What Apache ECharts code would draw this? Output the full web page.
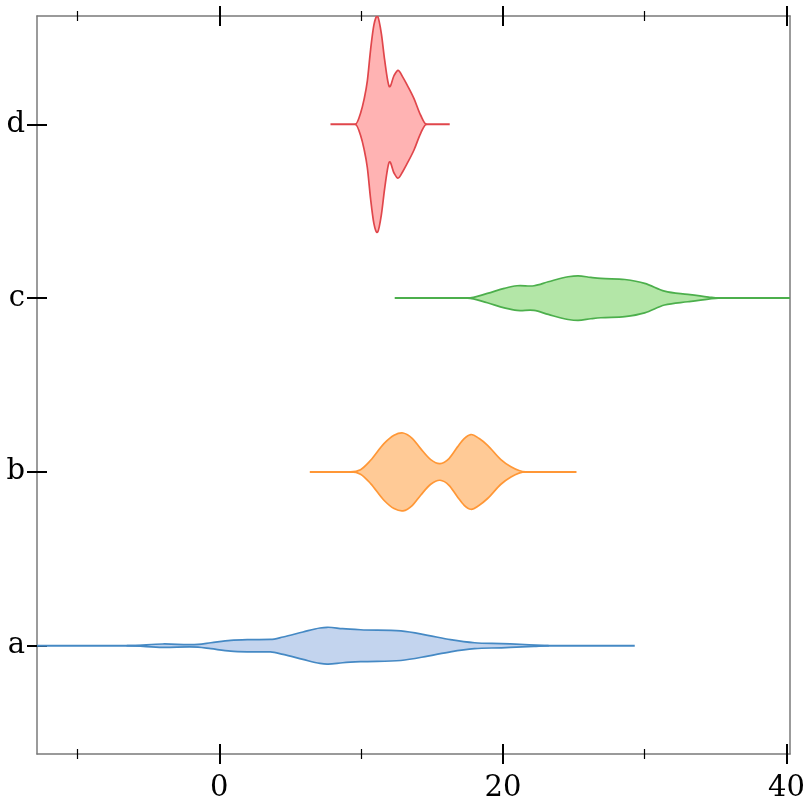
<!DOCTYPE html>
<html><head><meta charset="utf-8">
<script src="https://cdn.jsdelivr.net/npm/echarts@6/dist/echarts.min.js"></script>
<style>html,body{margin:0;padding:0;background:#fff}#c{width:812px;height:812px}</style>
</head><body><div id="c"></div>
<script>
// ---- data ----
const categories = ['a', 'b', 'c', 'd'];
const xMajorTicks = [0, 20, 40];
const xMinorTicks = [-10, 10, 30];
const yTickValues = [0, 1, 2, 3];

// violin outlines: x positions and half widths (in category units)
const aX = [-6.5, -4.0, -1.5, -0.6, 0.8, 2.0, 3.6, 4.5, 5.9, 7.1, 7.6, 8.7, 9.96, 12.8, 14.7, 16.3, 18.0, 19.9, 22.2, 23.2];
const aW = [0, 0.01, 0.008, 0.017, 0.031, 0.035, 0.036, 0.05, 0.079, 0.102, 0.106, 0.098, 0.092, 0.085, 0.06, 0.035, 0.017, 0.012, 0.004, 0];
const aLine = [-14, 29.3];

const bX = [9.26, 9.96, 10.67, 11.61, 12.32, 12.96, 13.62, 14.2, 14.91, 15.57, 16.2, 16.8, 17.27, 17.74, 18.33, 18.92, 19.86, 20.57, 21.6];
const bW = [0, 0.013, 0.067, 0.163, 0.211, 0.224, 0.192, 0.134, 0.071, 0.048, 0.077, 0.144, 0.192, 0.215, 0.192, 0.153, 0.071, 0.029, 0];
const bLine = [6.38, 25.19];

const cX = [17.5, 18.9, 20.1, 21.0, 22.2, 23.2, 24.6, 25.3, 26.2, 26.9, 28.6, 30.0, 31.4, 33.05, 34.5, 35.2];
const cW = [0, 0.027, 0.056, 0.071, 0.071, 0.094, 0.123, 0.128, 0.119, 0.113, 0.107, 0.085, 0.04, 0.021, 0.006, 0];
const cLine = [12.37, 41];

const dX = [9.6, 9.96, 10.2, 10.44, 10.67, 10.9, 11.17, 11.43, 11.66, 11.97, 12.32, 12.6, 12.95, 13.26, 13.73, 14.2, 14.6];
const dW = [0, 0.063, 0.14, 0.25, 0.43, 0.57, 0.62, 0.52, 0.37, 0.22, 0.28, 0.31, 0.27, 0.224, 0.148, 0.052, 0];
const dLine = [7.84, 16.25];

const xRange = [-12.86, 40.25];
const yRange = [-0.623, 3.623];

// ---- styling ----
const violins = [
  { x: aX, w: aW, line: aLine, stroke: '#4589c4', fill: '#c3d4ee' },
  { x: bX, w: bW, line: bLine, stroke: '#ff9736', fill: '#ffca96' },
  { x: cX, w: cW, line: cLine, stroke: '#4caf4c', fill: '#b3e6a7' },
  { x: dX, w: dW, line: dLine, stroke: '#e0464b', fill: '#ffb3b3' }
];
const FONT = 'DejaVu Serif';
const AXIS_GRAY = '#7a7a7a';

// smooth cubic segments through points (x increasing), flat tangent at both ends
function smoothSegments(pts) {
  const n = pts.length;
  const dx = [], s = [];
  for (let i = 0; i < n - 1; i++) {
    dx[i] = pts[i + 1][0] - pts[i][0];
    s[i] = (pts[i + 1][1] - pts[i][1]) / dx[i];
  }
  const m = new Array(n);
  m[0] = 0; m[n - 1] = 0;
  for (let i = 1; i < n - 1; i++) {
    m[i] = (dx[i] * s[i - 1] + dx[i - 1] * s[i]) / (dx[i - 1] + dx[i]);
    // limit to avoid big overshoot
    if (s[i - 1] * s[i] > 0) {
      const lim = 3 * Math.min(Math.abs(s[i - 1]), Math.abs(s[i]));
      if (Math.abs(m[i]) > lim) m[i] = Math.sign(m[i]) * lim;
    }
  }
  const segs = [];
  for (let i = 0; i < n - 1; i++) {
    const h = dx[i] / 3;
    segs.push([
      [pts[i][0] + h, pts[i][1] + m[i] * h],
      [pts[i + 1][0] - h, pts[i + 1][1] - m[i + 1] * h],
      pts[i + 1]
    ]);
  }
  return segs;
}

function makeRender(v, cat) {
  return function (params, api) {
    const cs = params.coordSys;
    const c0 = api.coord([v.line[0], cat]);
    const c1 = api.coord([v.line[1], cat]);
    const lx0 = Math.max(c0[0], cs.x), lx1 = Math.min(c1[0], cs.x + cs.width);
    const yc = c0[1];
    const top = v.x.map((xv, i) => api.coord([xv, cat + v.w[i]]));
    const segs = smoothSegments(top);
    const clampTop = p => [p[0], Math.min(p[1], yc)];
    const mir = p => [p[0], 2 * yc - Math.min(p[1], yc)];
    const f = p => p[0].toFixed(2) + ' ' + p[1].toFixed(2);
    let d = 'M' + f(top[0]);
    segs.forEach(sg => { d += ' C' + f(clampTop(sg[0])) + ' ' + f(clampTop(sg[1])) + ' ' + f(sg[2]); });
    for (let i = segs.length - 1; i >= 0; i--) {
      const start = i === 0 ? top[0] : segs[i - 1][2];
      d += ' C' + f(mir(segs[i][1])) + ' ' + f(mir(segs[i][0])) + ' ' + f(mir(start));
    }
    d += ' Z';
    return {
      type: 'group',
      children: [
        { type: 'line', shape: { x1: lx0, y1: yc, x2: lx1, y2: yc },
          style: { stroke: v.stroke, lineWidth: 2 } },
        { type: 'path', shape: { pathData: d },
          style: { fill: v.fill, stroke: v.stroke, lineWidth: 1.7, lineJoin: 'round' } }
      ]
    };
  };
}

function xAx(position, ticks, inside, len, width, opts) {
  return Object.assign({
    type: 'value', position, min: xRange[0], max: xRange[1],
    splitLine: { show: false },
    axisLine: { show: false, onZero: false },
    axisTick: { show: true, customValues: ticks, inside, length: len, lineStyle: { color: '#000', width } },
    axisLabel: { show: false }
  }, opts || {});
}
function yAx(position, ticks, inside, len, width, opts) {
  return Object.assign({
    type: 'value', position, min: yRange[0], max: yRange[1],
    splitLine: { show: false },
    axisLine: { show: false, onZero: false },
    axisTick: { show: ticks.length > 0, customValues: ticks, inside, length: len, lineStyle: { color: '#000', width } },
    axisLabel: { show: false }
  }, opts || {});
}
const lineOn = { show: true, onZero: false, lineStyle: { color: AXIS_GRAY, width: 1.5 } };

const option = {
  animation: false,
  backgroundColor: '#fff',
  grid: { left: 37, right: 22, top: 16, bottom: 58, containLabel: false },
  xAxis: [
    xAx('bottom', xMajorTicks, false, 10, 2, {
      axisLine: lineOn,
      axisLabel: { show: true, customValues: xMajorTicks, margin: 20, fontFamily: FONT, fontSize: 29, color: '#000' }
    }),
    xAx('bottom', xMajorTicks, true, 10, 2),
    xAx('bottom', xMinorTicks, false, 5, 1.2),
    xAx('bottom', xMinorTicks, true, 5, 1.2),
    xAx('top', xMajorTicks, false, 10, 2, { axisLine: lineOn }),
    xAx('top', xMajorTicks, true, 10, 2),
    xAx('top', xMinorTicks, false, 5, 1.2),
    xAx('top', xMinorTicks, true, 5, 1.2)
  ],
  yAxis: [
    yAx('left', yTickValues, false, 10, 2, {
      axisLine: lineOn,
      axisLabel: { show: true, customValues: yTickValues, margin: 12, fontFamily: FONT, fontSize: 29, color: '#000',
        formatter: v => categories[Math.round(v)] }
    }),
    yAx('left', yTickValues, true, 10, 2),
    yAx('right', [], false, 0, 1, { axisLine: lineOn })
  ],
  series: violins.map((v, i) => ({
    type: 'custom',
    name: categories[i],
    xAxisIndex: 0, yAxisIndex: 0,
    clip: true,
    renderItem: makeRender(v, i),
    data: [[v.line[0], i]],
    encode: { x: 0, y: 1 }
  }))
};
const chart = echarts.init(document.getElementById('c'), null, { renderer: 'canvas' });
chart.setOption(option);
</script></body></html>
